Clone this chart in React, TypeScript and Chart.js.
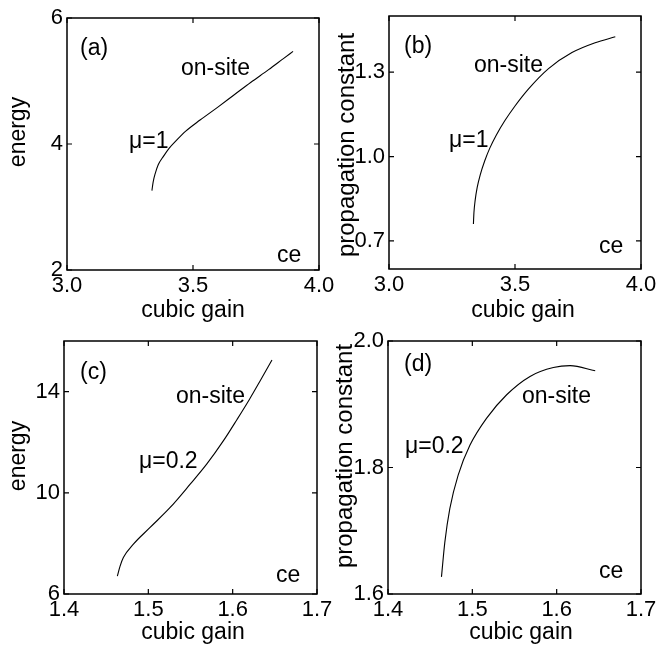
import React, { useEffect, useRef } from 'react';
import { Chart, registerables } from 'chart.js';

Chart.register(...registerables);

const FONT = '"Liberation Sans", Arial, Helvetica, sans-serif';

// ---- data: panel (a) energy vs cubic gain, mu = 1
const aGain = [3.337, 3.342, 3.35, 3.362, 3.382, 3.405, 3.435, 3.47, 3.528, 3.6, 3.66, 3.73, 3.8, 3.86, 3.897];
const aEnergy = [3.26, 3.4, 3.53, 3.67, 3.8, 3.93, 4.06, 4.2, 4.38, 4.59, 4.77, 4.98, 5.18, 5.36, 5.47];

// ---- panel (b) propagation constant vs cubic gain, mu = 1
const bGain = [3.335, 3.337, 3.342, 3.35, 3.362, 3.38, 3.4, 3.425, 3.46, 3.5, 3.553, 3.633, 3.726, 3.818, 3.898];
const bProp = [0.76, 0.8, 0.845, 0.89, 0.935, 0.985, 1.03, 1.075, 1.128, 1.18, 1.24, 1.313, 1.37, 1.405, 1.426];

// ---- panel (c) energy vs cubic gain, mu = 0.2
const cGain = [1.4633, 1.4665, 1.4704, 1.4823, 1.5021, 1.5259, 1.5496, 1.5694, 1.5891, 1.605, 1.62, 1.633, 1.6466];
const cEnergy = [6.71, 7.1, 7.44, 7.97, 8.63, 9.42, 10.34, 11.14, 12.06, 12.89, 13.7, 14.45, 15.25];

// ---- panel (d) propagation constant vs cubic gain, mu = 0.2
const dGain = [1.4634, 1.4674, 1.4733, 1.4832, 1.4971, 1.517, 1.5407, 1.5684, 1.5961, 1.616, 1.6457];
const dProp = [1.627, 1.682, 1.735, 1.788, 1.835, 1.878, 1.915, 1.944, 1.958, 1.961, 1.953];

// ---- ticks
const xTicksTop = [3.0, 3.5, 4.0];
const xLabelsTop = ['3.0', '3.5', '4.0'];
const xTicksBottom = [1.4, 1.5, 1.6, 1.7];
const xLabelsBottom = ['1.4', '1.5', '1.6', '1.7'];
const aYTicks = [2, 4, 6];
const aYLabels = ['2', '4', '6'];
const bYTicks = [0.7, 1.0, 1.3];
const bYLabels = ['0.7', '1.0', '1.3'];
const cYTicks = [6, 10, 14];
const cYLabels = ['6', '10', '14'];
const dYTicks = [1.6, 1.8, 2.0];
const dYLabels = ['1.6', '1.8', '2.0'];

type Note = { text: string; x: number; y: number };
type Panel = {
  left: number; top: number; width: number; height: number;
  area: { l: number; t: number; r: number; b: number };
  xMin: number; xMax: number; yMin: number; yMax: number;
  xs: number[]; ys: number[];
  xTicks: number[]; xLabels: string[]; yTicks: number[]; yLabels: string[];
  xTitle: string; xTitleX: number; xTitleY: number;
  yTitle: string; yTitleX: number; yTitleY: number; yTitleSize: number;
  notes: Note[];
};

const panels: Panel[] = [
  {
    left: 0, top: 0, width: 335, height: 326,
    area: { l: 67, t: 18, r: 319, b: 270 },
    xMin: 3, xMax: 4, yMin: 2, yMax: 6,
    xs: aGain, ys: aEnergy,
    xTicks: xTicksTop, xLabels: xLabelsTop, yTicks: aYTicks, yLabels: aYLabels,
    xTitle: 'cubic gain', xTitleX: 193, xTitleY: 317,
    yTitle: 'energy', yTitleX: 25, yTitleY: 132, yTitleSize: 23,
    notes: [
      { text: '(a)', x: 80, y: 55 },
      { text: 'on-site', x: 181, y: 75 },
      { text: 'μ=1', x: 129, y: 148 },
      { text: 'ce', x: 277, y: 262 },
    ],
  },
  {
    left: 334, top: 0, width: 335, height: 326,
    area: { l: 55, t: 16, r: 307, b: 269 },
    xMin: 3, xMax: 4, yMin: 0.6, yMax: 1.5,
    xs: bGain, ys: bProp,
    xTicks: xTicksTop, xLabels: xLabelsTop, yTicks: bYTicks, yLabels: bYLabels,
    xTitle: 'cubic gain', xTitleX: 189, xTitleY: 317,
    yTitle: 'propagation constant', yTitleX: 20, yTitleY: 145, yTitleSize: 24,
    notes: [
      { text: '(b)', x: 70, y: 53 },
      { text: 'on-site', x: 140, y: 72 },
      { text: 'μ=1', x: 115, y: 147 },
      { text: 'ce', x: 265, y: 253 },
    ],
  },
  {
    left: 0, top: 326, width: 335, height: 326,
    area: { l: 64, t: 15, r: 317, b: 268 },
    xMin: 1.4, xMax: 1.7, yMin: 6, yMax: 16,
    xs: cGain, ys: cEnergy,
    xTicks: xTicksBottom, xLabels: xLabelsBottom, yTicks: cYTicks, yLabels: cYLabels,
    xTitle: 'cubic gain', xTitleX: 193, xTitleY: 313,
    yTitle: 'energy', yTitleX: 25, yTitleY: 130, yTitleSize: 23,
    notes: [
      { text: '(c)', x: 80, y: 53 },
      { text: 'on-site', x: 176, y: 77 },
      { text: 'μ=0.2', x: 139, y: 142 },
      { text: 'ce', x: 276, y: 256 },
    ],
  },
  {
    left: 334, top: 326, width: 335, height: 326,
    area: { l: 54, t: 15, r: 307, b: 268 },
    xMin: 1.4, xMax: 1.7, yMin: 1.6, yMax: 2.0,
    xs: dGain, ys: dProp,
    xTicks: xTicksBottom, xLabels: xLabelsBottom, yTicks: dYTicks, yLabels: dYLabels,
    xTitle: 'cubic gain', xTitleX: 187, xTitleY: 313,
    yTitle: 'propagation constant', yTitleX: 18, yTitleY: 130, yTitleSize: 24,
    notes: [
      { text: '(d)', x: 70, y: 45 },
      { text: 'on-site', x: 188, y: 77 },
      { text: 'μ=0.2', x: 71, y: 127 },
      { text: 'ce', x: 265, y: 252 },
    ],
  },
];

function makeFrame(p: Panel) {
  return {
    id: 'frame',
    afterDraw(chart: any) {
      const { ctx, chartArea: a, scales } = chart;
      ctx.save();
      ctx.strokeStyle = '#000';
      ctx.lineWidth = 1.5;
      ctx.strokeRect(a.left, a.top, a.right - a.left, a.bottom - a.top);
      ctx.lineWidth = 1.2;
      const tl = 5;
      scales.x.ticks.forEach((t: any) => {
        const x = scales.x.getPixelForValue(t.value);
        ctx.beginPath();
        ctx.moveTo(x, a.bottom); ctx.lineTo(x, a.bottom - tl);
        ctx.moveTo(x, a.top); ctx.lineTo(x, a.top + tl);
        ctx.stroke();
      });
      scales.y.ticks.forEach((t: any) => {
        const y = scales.y.getPixelForValue(t.value);
        ctx.beginPath();
        ctx.moveTo(a.left, y); ctx.lineTo(a.left + tl, y);
        ctx.moveTo(a.right, y); ctx.lineTo(a.right - tl, y);
        ctx.stroke();
      });
      ctx.fillStyle = '#000';
      ctx.font = `23px ${FONT}`;
      ctx.textBaseline = 'alphabetic';
      ctx.textAlign = 'center';
      ctx.fillText(p.xTitle, p.xTitleX, p.xTitleY);
      ctx.save();
      ctx.font = `${p.yTitleSize}px ${FONT}`;
      ctx.translate(p.yTitleX, p.yTitleY);
      ctx.rotate(-Math.PI / 2);
      ctx.fillText(p.yTitle, 0, 0);
      ctx.restore();
      ctx.textAlign = 'left';
      p.notes.forEach((n) => ctx.fillText(n.text, n.x, n.y));
      ctx.restore();
    },
  };
}

function PanelChart({ p }: { p: Panel }) {
  const ref = useRef<HTMLCanvasElement>(null);
  useEffect(() => {
    if (!ref.current) return;
    const tickFont = { family: FONT, size: 22 };
    const chart = new Chart(ref.current, {
      type: 'scatter',
      data: {
        datasets: [
          {
            data: p.xs.map((x, i) => ({ x, y: p.ys[i] })),
            showLine: true,
            borderColor: '#000',
            borderWidth: 1.1,
            pointRadius: 0,
            cubicInterpolationMode: 'monotone',
            fill: false,
          } as any,
        ],
      },
      options: {
        animation: false,
        responsive: false,
        maintainAspectRatio: false,
        events: [],
        layout: { padding: { left: 0, top: p.area.t, right: p.width - p.area.r, bottom: 0 } },
        plugins: { legend: { display: false }, tooltip: { enabled: false } },
        scales: {
          x: {
            type: 'linear',
            min: p.xMin,
            max: p.xMax,
            grid: { display: false, drawTicks: false },
            border: { display: false },
            ticks: {
              font: tickFont,
              color: '#000',
              padding: 3,
              maxRotation: 0,
              autoSkip: false,
              callback: (_v: any, i: number) => p.xLabels[i],
            },
            afterBuildTicks: (s: any) => {
              s.ticks = p.xTicks.map((v) => ({ value: v }));
            },
            afterFit: (s: any) => {
              s.height = p.height - p.area.b;
              s.paddingLeft = 0;
              s.paddingRight = 0;
            },
          },
          y: {
            type: 'linear',
            min: p.yMin,
            max: p.yMax,
            grid: { display: false, drawTicks: false },
            border: { display: false },
            ticks: {
              font: tickFont,
              color: '#000',
              padding: 4,
              autoSkip: false,
              callback: (_v: any, i: number) => p.yLabels[i],
            },
            afterBuildTicks: (s: any) => {
              s.ticks = p.yTicks.map((v) => ({ value: v }));
            },
            afterFit: (s: any) => {
              s.width = p.area.l;
              s.paddingTop = 0;
              s.paddingBottom = 0;
            },
          },
        },
      } as any,
      plugins: [makeFrame(p)],
    });
    return () => chart.destroy();
  }, [p]);
  return (
    <canvas
      ref={ref}
      width={p.width}
      height={p.height}
      style={{ position: 'absolute', left: p.left, top: p.top, width: p.width, height: p.height, display: 'block' }}
    />
  );
}

export default function App() {
  return (
    <div style={{ position: 'absolute', left: 0, top: 0, width: 669, height: 652, background: '#fff' }}>
      {panels.map((p, i) => (
        <PanelChart key={i} p={p} />
      ))}
    </div>
  );
}
